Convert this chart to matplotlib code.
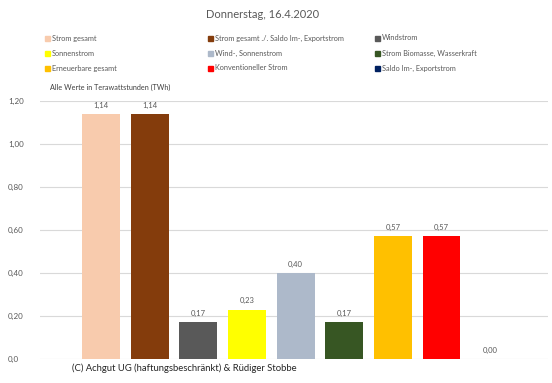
import matplotlib.pyplot as plt

# Values
categories = ["Strom gesamt", "Strom gesamt ./. Saldo Im-, Exportstrom", "Windstrom",
              "Sonnenstrom", "Wind-, Sonnenstrom", "Strom Biomasse, Wasserkraft",
              "Erneuerbare gesamt", "Konventioneller Strom", "Saldo Im-, Exportstrom"]
values = [1.14, 1.14, 0.17, 0.23, 0.40, 0.17, 0.57, 0.57, 0.00]
bar_colors = ["#F8CBAD", "#843C0C", "#595959", "#FFFF00", "#ADB9CA",
              "#375623", "#FFC000", "#FF0000", "#002060"]
yticks = [0.0, 0.2, 0.4, 0.6, 0.8, 1.0, 1.2]
ytick_labels = ["0,0", "0,20", "0,40", "0,60", "0,80", "1,00", "1,20"]

plt.rcParams["font.family"] = ["Lato", "DejaVu Sans"]
txt = "#595959"
fig = plt.figure(figsize=(5.52, 3.83), dpi=100)
ax = fig.add_axes([40 / 552, 1 - 359 / 383, 508 / 552, 258 / 383])

x = list(range(len(values)))
ax.bar(x, values, width=0.78, color=bar_colors, zorder=3)
for xi, v in zip(x, values):
    ax.text(xi, v + 0.025, f"{v:.2f}".replace(".", ","), ha="center", va="bottom",
            fontsize=5.5, color=txt)

ax.set_xlim(-1.255, 9.19)
ax.set_ylim(0, 1.2)
ax.set_yticks(yticks)
ax.set_yticklabels(ytick_labels, fontsize=5.8, color=txt, ha="left")
ax.tick_params(axis="y", length=0, pad=23)
ax.set_xticks([])
ax.grid(axis="y", color="#D9D9D9", linewidth=0.8, zorder=0)
for s in ax.spines.values():
    s.set_visible(False)

fig.text(263 / 552, 1 - 14 / 383, "Donnerstag, 16.4.2020", ha="center", va="center",
         fontsize=8, color=txt)

# legend, 3 columns
col_x = [45, 208, 375]
row_y = [38, 53, 68]
for i, (name, c) in enumerate(zip(categories, bar_colors)):
    px = col_x[i % 3]
    py = row_y[i // 3]
    fig.patches.append(plt.Rectangle((px / 552, 1 - (py + 3) / 383), 5 / 552, 5 / 383,
                                     transform=fig.transFigure, color=c))
    fig.text((px + 7) / 552, 1 - py / 383, name, ha="left", va="center",
             fontsize=5.3, color=txt)

fig.text(50 / 552, 1 - 87 / 383, "Alle Werte in Terawattstunden (TWh)", ha="left",
         va="center", fontsize=5.2, color="#404040")
fig.text(72 / 552, 1 - 368 / 383, "(C) Achgut UG (haftungsbeschränkt) & Rüdiger Stobbe",
         ha="left", va="center", fontsize=6.8, color="#262626")

fig.savefig("out.png", dpi=100)
